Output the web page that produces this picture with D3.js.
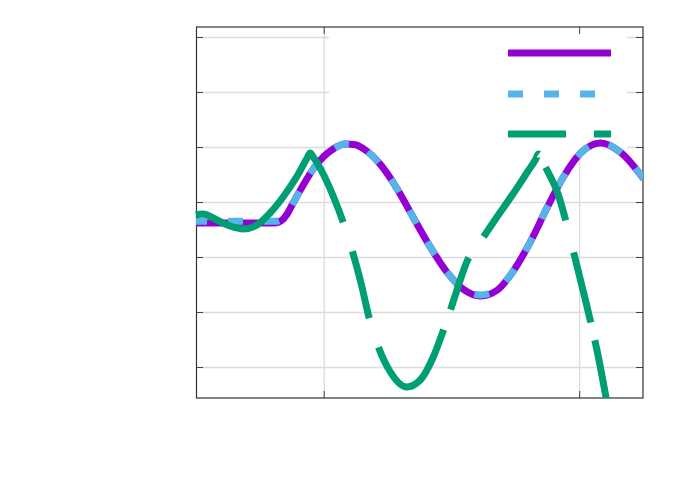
<!DOCTYPE html>
<html>
<head>
<meta charset="utf-8">
<script src="https://cdn.jsdelivr.net/npm/d3@7"></script>
<style>
  html, body { margin: 0; padding: 0; background: #ffffff; }
  svg { display: block; }
</style>
</head>
<body>
<svg id="chart" width="692" height="485"></svg>
<script>
// ---------------- data ----------------
const xTicks = [1, 2];
const yTicks = [-3, -2, -1, 0, 1, 2, 3];

// shared x positions of the violet (solid) and blue (dashed) curves
const curveX = [0.500, 0.673, 0.810, 0.833, 0.857, 0.880, 0.920, 0.959, 0.998, 1.037,
                1.084, 1.124, 1.155, 1.222, 1.288, 1.351, 1.418, 1.484, 1.547, 1.614,
                1.680, 1.743, 1.810, 1.876, 1.939, 2.006, 2.084, 2.163, 2.253];
const violetY = [-0.382, -0.382, -0.382, -0.345, -0.218, -0.018, 0.309, 0.600, 0.818, 0.964,
                 1.055, 1.040, 0.970, 0.680, 0.235, -0.285, -0.825, -1.285, -1.590, -1.709,
                 -1.600, -1.250, -0.715, -0.090, 0.460, 0.891, 1.073, 0.900, 0.418];
const blueY   = [-0.350, -0.350, -0.350, -0.320, -0.205, -0.018, 0.309, 0.600, 0.818, 0.964,
                 1.055, 1.040, 0.970, 0.680, 0.235, -0.285, -0.825, -1.285, -1.580, -1.690,
                 -1.590, -1.250, -0.715, -0.090, 0.460, 0.891, 1.073, 0.900, 0.418];

// green long-dashed curve
const greenX = [0.500, 0.527, 0.582, 0.633, 0.684, 0.739, 0.790, 0.841, 0.896, 0.935,
                0.947, 0.959, 0.998, 1.037, 1.076, 1.112, 1.147, 1.178, 1.214, 1.261,
                1.324, 1.378, 1.429, 1.469, 1.496, 1.567, 1.625, 1.680, 1.743, 1.798,
                1.829, 1.841, 1.853, 1.876, 1.916, 1.947, 1.978, 2.010, 2.045, 2.073,
                2.100, 2.131];
const greenY = [-0.236, -0.218, -0.327, -0.436, -0.491, -0.418, -0.200, 0.091, 0.473, 0.800,
                0.891, 0.818, 0.509, 0.109, -0.364, -0.891, -1.491, -2.109, -2.636, -3.091,
                -3.364, -3.236, -2.818, -2.327, -1.964, -1.018, -0.636, -0.260, 0.160, 0.550,
                0.770, 0.873, 0.764, 0.564, 0.164, -0.327, -0.909, -1.509, -2.182, -2.764,
                -3.420, -4.200];

// ---------------- styles / layout ----------------
const W = 692, H = 485;
const plot = { left: 196, top: 27, right: 643, bottom: 398 };
const colors = { violet: "#9400d3", blue: "#56b4e9", green: "#009e73",
                 grid: "#dcdcdc", frame: "#333333" };
const lineW = 7;
// x-intervals (data units) where the green dash pattern shows gaps
const greenGaps = [[1.076, 1.112], [1.178, 1.214], [1.469, 1.496], [1.567, 1.625],
                   [1.841, 1.868], [1.947, 1.978], [2.045, 2.061]];
const legendBox = { x0: 329, x1: 627, y0: 27, y1: 149 };
const legendKeys = { x0: 508, x1: 611, ys: [53, 94, 134] };

// ---------------- scales ----------------
const x = d3.scaleLinear().domain([0.5, 2.25]).range([plot.left, plot.right]);
const y = d3.scaleLinear().domain([-3.5636, 3.1818]).range([plot.bottom, plot.top]);
const pw = plot.right - plot.left, ph = plot.bottom - plot.top;

const svg = d3.select("#chart");
svg.append("rect").attr("width", W).attr("height", H).attr("fill", "#fff");

// ---------------- grid ----------------
const gridY = svg.append("g").attr("transform", `translate(${plot.left},0)`)
  .call(d3.axisLeft(y).tickValues(yTicks).tickSize(-pw).tickFormat(""));
const gridX = svg.append("g").attr("transform", `translate(0,${plot.bottom})`)
  .call(d3.axisBottom(x).tickValues(xTicks).tickSize(-ph).tickFormat(""));
[gridX, gridY].forEach(g => {
  g.select(".domain").remove();
  g.selectAll("text").remove();
  g.selectAll("line").attr("stroke", colors.grid).attr("stroke-width", 1.3);
});

// opaque legend box hides the grid behind the key
svg.append("rect")
  .attr("x", legendBox.x0).attr("y", legendBox.y0)
  .attr("width", legendBox.x1 - legendBox.x0).attr("height", legendBox.y1 - legendBox.y0)
  .attr("fill", "#fff");

// ---------------- ticks (mirrored, inward) and frame ----------------
const tick = 7;
const axes = [
  svg.append("g").attr("transform", `translate(${plot.left},0)`).call(d3.axisLeft(y).tickValues(yTicks).tickSize(-tick).tickFormat("")),
  svg.append("g").attr("transform", `translate(${plot.right},0)`).call(d3.axisRight(y).tickValues(yTicks).tickSize(-tick).tickFormat("")),
  svg.append("g").attr("transform", `translate(0,${plot.bottom})`).call(d3.axisBottom(x).tickValues(xTicks).tickSize(-tick).tickFormat("")),
  svg.append("g").attr("transform", `translate(0,${plot.top})`).call(d3.axisTop(x).tickValues(xTicks).tickSize(-tick).tickFormat(""))
];
axes.forEach(g => {
  g.select(".domain").remove();
  g.selectAll("text").remove();
  g.selectAll("line").attr("stroke", "#444").attr("stroke-width", 1);
});
svg.append("rect")
  .attr("x", plot.left + 0.5).attr("y", plot.top)
  .attr("width", pw - 0.5).attr("height", ph)
  .attr("fill", "none").attr("stroke", colors.frame).attr("stroke-width", 1.2);

// ---------------- curves ----------------
svg.append("clipPath").attr("id", "clip")
  .append("rect").attr("x", plot.left - 1).attr("y", plot.top)
  .attr("width", pw + 1).attr("height", ph);

const line = d3.line().x(d => x(d[0])).y(d => y(d[1])).curve(d3.curveMonotoneX);
const curves = svg.append("g").attr("clip-path", "url(#clip)");

curves.append("path")
  .attr("d", line(curveX.map((v, i) => [v, violetY[i]])))
  .attr("fill", "none").attr("stroke", colors.violet).attr("stroke-width", lineW);

curves.append("path")
  .attr("d", line(curveX.map((v, i) => [v, blueY[i]])))
  .attr("fill", "none").attr("stroke", colors.blue).attr("stroke-width", lineW)
  .attr("stroke-dasharray", "15,21").attr("stroke-dashoffset", 4);

const gPath = curves.append("path")
  .attr("d", line(greenX.map((v, i) => [v, greenY[i]])))
  .attr("fill", "none").attr("stroke", colors.green).attr("stroke-width", lineW);

// dash pattern of the green curve, following the gap positions
(function () {
  const node = gPath.node();
  const total = node.getTotalLength();
  const lenAt = px => {
    let lo = 0, hi = total;
    for (let k = 0; k < 40; k++) {
      const mid = (lo + hi) / 2;
      if (node.getPointAtLength(mid).x < px) lo = mid; else hi = mid;
    }
    return lo;
  };
  const arr = [];
  let prev = 0;
  greenGaps.forEach(([a, b]) => {
    const la = lenAt(x(a)), lb = lenAt(x(b));
    arr.push(la - prev, lb - la);
    prev = lb;
  });
  arr.push(total - prev + 20, 0);
  gPath.attr("stroke-dasharray", arr.map(v => v.toFixed(2)).join(","));
})();

// ---------------- legend keys (no titles) ----------------
const keys = [
  { c: colors.violet, dash: null },
  { c: colors.blue, dash: "15,21" },
  { c: colors.green, dash: "58,28" }
];
keys.forEach((k, i) => {
  svg.append("line")
    .attr("x1", legendKeys.x0).attr("x2", legendKeys.x1)
    .attr("y1", legendKeys.ys[i]).attr("y2", legendKeys.ys[i])
    .attr("stroke", k.c).attr("stroke-width", lineW)
    .attr("stroke-dasharray", k.dash);
});
</script>
</body>
</html>
